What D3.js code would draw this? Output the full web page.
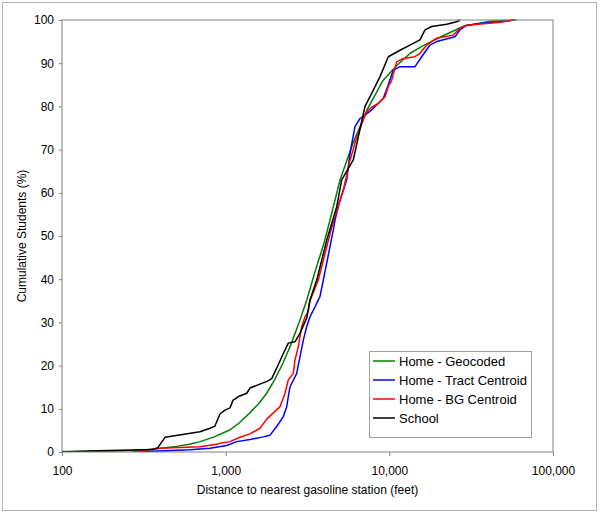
<!DOCTYPE html>
<html>
<head>
<meta charset="utf-8">
<script src="https://cdn.jsdelivr.net/npm/d3@7"></script>
<style>
  html, body { margin: 0; padding: 0; background: #fff; }
  svg { display: block; font-family: Arial, "Liberation Sans", sans-serif; }
</style>
</head>
<body>
<svg id="chart" width="600" height="513"></svg>
<script>
// ---- Data (distance in feet, cumulative % of students) ----
const seriesNames = ["Home - Geocoded", "Home - Tract Centroid", "Home - BG Centroid", "School"];
const seriesColors = ["#008000", "#0000ff", "#ff0000", "#000000"];

const geocodedDist = [100, 200, 300, 400, 500, 600, 700, 850, 1060, 1200, 1400, 1600, 1780, 2000, 2240, 2500, 2850, 3130, 3500, 4000, 4340, 5000, 6000, 7270, 9150, 11000, 13400, 16000, 20400, 28200, 41200, 60000];
const geocodedPct  = [0.1, 0.2, 0.4, 0.85, 1.3, 1.8, 2.4, 3.5, 5.1, 6.6, 9.0, 11.3, 13.6, 16.8, 20.6, 24.8, 30.6, 35.2, 41.5, 48.5, 53.7, 63.0, 71.5, 79.0, 86.0, 89.3, 92.3, 94.0, 96.0, 98.5, 99.7, 100];

const tractDist = [270, 605, 802, 1015, 1168, 1408, 1698, 1866, 2050, 2250, 2360, 2414, 2472, 2652, 2716, 2846, 2981, 3126, 3275, 3515, 3681, 3770, 4143, 4546, 4656, 4995, 5489, 5748, 6168, 6618, 7100, 7802, 9188, 9856, 10573, 11620, 14350, 15770, 17720, 19470, 25190, 27020, 29700, 35800, 47450, 57800];
const tractPct  = [0, 0.5, 0.85, 1.5, 2.4, 2.9, 3.5, 3.9, 5.9, 8.2, 10.5, 12.8, 15.1, 17.4, 18.2, 22.1, 25.9, 29.0, 31.3, 33.6, 35.2, 36.0, 43.7, 51.4, 53.7, 58.3, 63.0, 69.1, 75.3, 77.2, 78.0, 79.2, 81.9, 85.0, 88.4, 89.2, 89.2, 91.5, 94.2, 95.0, 96.1, 97.7, 98.8, 99.2, 99.6, 100];

const bgDist = [272, 397, 697, 881, 923, 1063, 1223, 1408, 1621, 1781, 2148, 2304, 2414, 2590, 2652, 2779, 2914, 3053, 3198, 3275, 3681, 4143, 4445, 4656, 5232, 5489, 5700, 6168, 6462, 6933, 7272, 7802, 8560, 9408, 9856, 10337, 11090, 12170, 14350, 15390, 16920, 19470, 24590, 27020, 29700, 47450, 57800];
const bgPct  = [0, 0.85, 1.2, 1.8, 2.0, 2.4, 3.4, 4.2, 5.5, 7.6, 10.5, 13.6, 16.7, 18.2, 21.3, 24.4, 29.0, 31.3, 32.5, 35.0, 39.8, 47.5, 52.0, 54.5, 60.6, 64.0, 67.0, 71.5, 73.8, 76.9, 78.8, 79.8, 80.7, 82.2, 84.6, 86.1, 90.3, 91.1, 91.5, 92.3, 94.2, 95.8, 96.5, 98.1, 98.8, 99.5, 100];

const schoolDist = [100, 163, 360, 385, 426, 697, 802, 860, 923, 991, 1063, 1109, 1168, 1190, 1345, 1408, 1691, 1781, 1911, 2050, 2250, 2414, 2652, 2846, 3126, 3275, 3600, 4143, 4770, 5116, 6023, 7100, 7802, 8770, 9856, 11620, 13370, 15390, 16520, 18150, 22410, 25790, 27020];
const schoolPct  = [0, 0.3, 0.6, 1.0, 3.4, 4.7, 5.5, 6.0, 8.8, 9.7, 10.2, 12.0, 12.5, 12.8, 13.6, 14.8, 16.0, 16.3, 17.0, 19.4, 22.8, 25.2, 25.5, 27.5, 31.0, 35.2, 39.8, 49.0, 56.8, 63.0, 67.6, 80.0, 83.0, 86.9, 91.5, 93.0, 94.2, 95.4, 97.7, 98.5, 99.0, 99.6, 100];

const xTicks = [100, 1000, 10000, 100000];
const yTicks = [0, 10, 20, 30, 40, 50, 60, 70, 80, 90, 100];

const xTitle = "Distance to nearest gasoline station (feet)";
const yTitle = "Cumulative Students (%)";

(function () {
// ---- Layout ----
const svg = d3.select("#chart");
const pLeft = 62, pRight = 553, pTop = 20, pBottom = 452;

svg.append("rect").attr("x", 2.5).attr("y", 2.5).attr("width", 594).attr("height", 508)
  .attr("fill", "#fff").attr("stroke", "#b4b4b4").attr("stroke-width", 1);

const x = d3.scaleLog().domain([100, 100000]).range([pLeft, pRight]);
const y = d3.scaleLinear().domain([0, 100]).range([pBottom, pTop]);

// Axes
const xAxis = svg.append("g").attr("transform", `translate(0,${pBottom})`)
  .call(d3.axisBottom(x).tickValues(xTicks).tickFormat(d3.format(",")).tickSize(4).tickPadding(10));
const yAxis = svg.append("g").attr("transform", `translate(${pLeft},0)`)
  .call(d3.axisLeft(y).tickValues(yTicks).tickSize(3).tickPadding(5));
[xAxis, yAxis].forEach(g => {
  g.select(".domain").remove();
  g.selectAll(".tick line").attr("stroke", "#808080");
  g.selectAll(".tick text").attr("fill", "#000").style("font-size", "12px")
    .style("font-family", "Arial, 'Liberation Sans', sans-serif");
});

// Clip
svg.append("clipPath").attr("id", "clip").append("rect")
  .attr("x", pLeft).attr("y", pTop - 2).attr("width", pRight - pLeft).attr("height", pBottom - pTop + 2);

const series = [
  { dist: geocodedDist, pct: geocodedPct },
  { dist: tractDist, pct: tractPct },
  { dist: bgDist, pct: bgPct },
  { dist: schoolDist, pct: schoolPct }
];

const line = d3.line().x(d => x(d[0])).y(d => y(d[1]));
const lines = svg.append("g").attr("clip-path", "url(#clip)");
series.forEach((s, i) => {
  const pts = s.dist.map((d, j) => [d, s.pct[j]]);
  lines.append("path").datum(pts).attr("d", line)
    .attr("fill", "none").attr("stroke", seriesColors[i]).attr("stroke-width", 1.5)
    .attr("stroke-linejoin", "round");
});

// Plot frame
svg.append("rect").attr("x", pLeft).attr("y", pTop).attr("width", pRight - pLeft).attr("height", pBottom - pTop)
  .attr("fill", "none").attr("stroke", "#808080").attr("stroke-width", 1);

// Titles
svg.append("text").attr("x", (pLeft + pRight) / 2).attr("y", 494).attr("text-anchor", "middle")
  .style("font-size", "12px").text(xTitle);
svg.append("text").attr("transform", `translate(26,${(pTop + pBottom) / 2}) rotate(-90)`)
  .attr("text-anchor", "middle").style("font-size", "12px").text(yTitle);

// Legend
const lg = svg.append("g");
lg.append("rect").attr("x", 369.5).attr("y", 351.5).attr("width", 162).attr("height", 86)
  .attr("fill", "#fff").attr("stroke", "#a0a0a0");
seriesNames.forEach((name, i) => {
  const cy = 361 + i * 19;
  lg.append("line").attr("x1", 373).attr("x2", 395).attr("y1", cy).attr("y2", cy)
    .attr("stroke", seriesColors[i]).attr("stroke-width", 1.5);
  lg.append("text").attr("x", 399).attr("y", cy).attr("dy", "0.35em")
    .style("font-size", "13px").text(name);
});
})();
</script>
</body>
</html>
